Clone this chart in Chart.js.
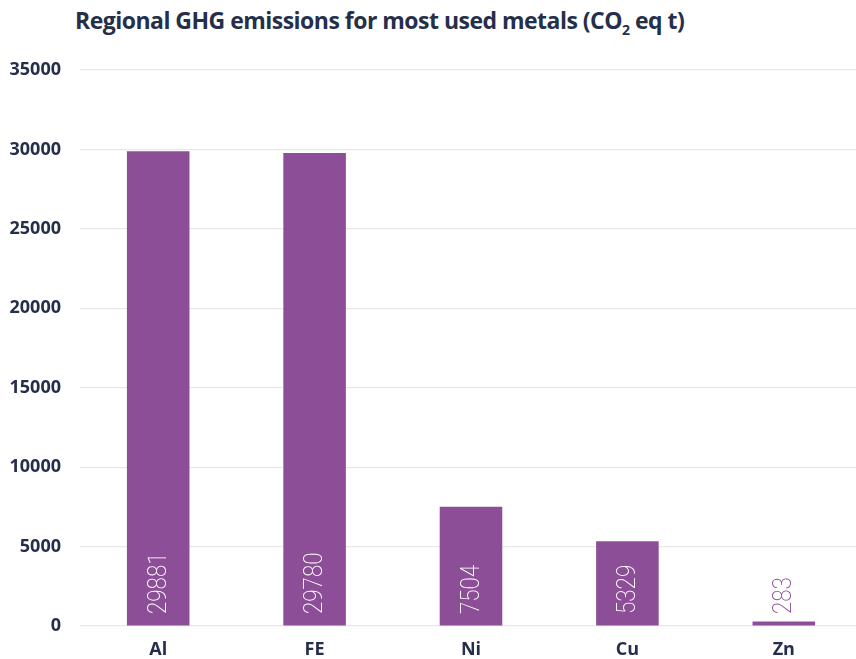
<!DOCTYPE html>
<html>
<head>
<meta charset="utf-8">
<script src="https://cdn.jsdelivr.net/npm/chart.js@4/dist/chart.umd.min.js"></script>
<style>
  html, body { margin: 0; padding: 0; background: #ffffff; overflow: hidden; }
  body { width: 856px; height: 659px; position: relative; }
  #title {
    position: absolute; left: 75px; top: 4px;
    font-family: "Open Sans", sans-serif; font-weight: 700; font-size: 23px;
    color: #262f4a; white-space: nowrap; letter-spacing: -0.52px;
  }
  #title sub { font-size: 14px; vertical-align: -6px; line-height: 0; }
  #wrap { position: absolute; left: 0; top: 0; width: 866px; height: 659px; }
</style>
</head>
<body>
<div id="title">Regional GHG emissions for most used metals (CO<sub>2</sub> eq t)</div>
<div id="wrap"><canvas id="chart" width="866" height="659"></canvas></div>
<script>
// Metals and their regional emissions, in tonnes of CO2 equivalent
const metals = ['Al', 'FE', 'Ni', 'Cu', 'Zn'];
const emissions = [29881, 29780, 7504, 5329, 283];
const yTicks = [0, 5000, 10000, 15000, 20000, 25000, 30000, 35000];

const barColor = '#8c4f97';
const textColor = '#262f4a';

// Value labels written upward from the base of each bar
const valueLabels = {
  id: 'valueLabels',
  afterDatasetsDraw(chart) {
    const { ctx } = chart;
    const xs = chart.scales.x, ys = chart.scales.y;
    const base = ys.getPixelForValue(0);
    ctx.save();
    ctx.font = '200 26px Roboto, sans-serif';
    emissions.forEach((v, i) => {
      const x = xs.getPixelForValue(i) + 1;
      const text = String(v);
      const w = ctx.measureText(text).width * 0.86;
      const barH = base - ys.getPixelForValue(v);
      ctx.save();
      ctx.translate(x, base - 12);
      ctx.rotate(-Math.PI / 2);
      ctx.scale(0.86, 1);
      ctx.fillStyle = barH > w + 14 ? '#ffffff' : barColor;
      ctx.textAlign = 'left';
      ctx.textBaseline = 'middle';
      ctx.fillText(text, 0, 0);
      ctx.restore();
    });
    ctx.restore();
  }
};

const tickFont = { family: '"Open Sans", sans-serif', size: 18, weight: 'bold' };

new Chart(document.getElementById('chart'), {
  type: 'bar',
  data: {
    labels: metals,
    datasets: [{
      data: emissions,
      backgroundColor: barColor,
      barPercentage: 0.4,
      categoryPercentage: 1.0
    }]
  },
  options: {
    responsive: false,
    animation: false,
    devicePixelRatio: 1,
    layout: { padding: { top: 70, right: 4, left: 0, bottom: 0 } },
    plugins: { legend: { display: false }, tooltip: { enabled: false }, title: { display: false } },
    scales: {
      x: {
        grid: { display: false },
        border: { display: false },
        ticks: { color: textColor, font: tickFont, padding: 5 },
        afterFit(s) { s.height = 33; }
      },
      y: {
        min: 0, max: 35000,
        afterBuildTicks(s) { s.ticks = yTicks.map(v => ({ value: v })); },
        grid: { color: '#ece5ea', lineWidth: 1.2, drawTicks: false },
        border: { display: false },
        ticks: { color: textColor, font: tickFont, padding: 19, callback: v => String(v) },
        afterFit(s) { s.width = 80; }
      }
    }
  },
  plugins: [valueLabels]
});
</script>
</body>
</html>
